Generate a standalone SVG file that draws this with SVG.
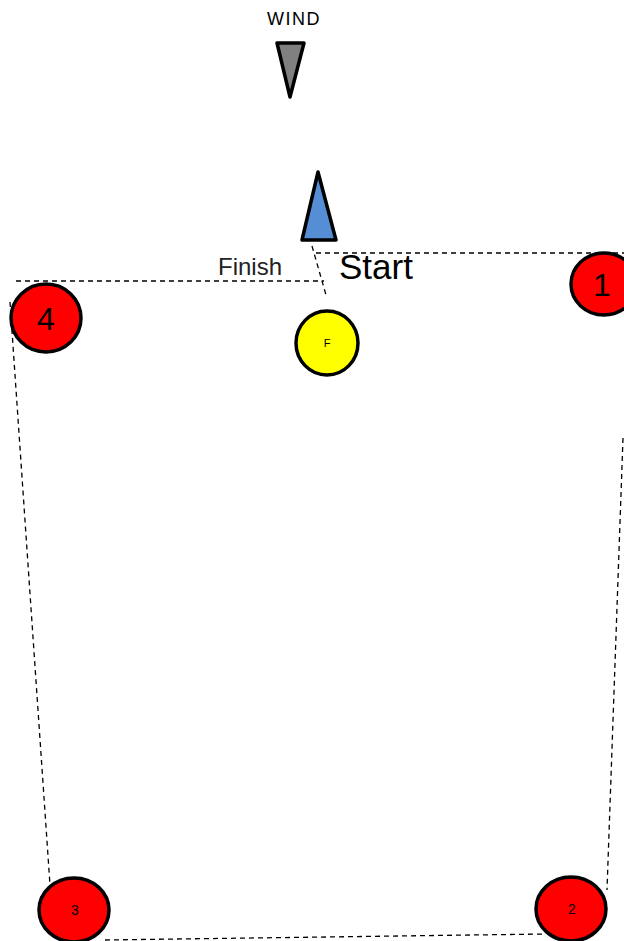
<svg xmlns="http://www.w3.org/2000/svg" width="624" height="941" viewBox="0 0 624 941">
<style>
.route{fill:none;stroke:#000;stroke-width:1.3;stroke-dasharray:5 4}
.mark{fill:#ff0000;stroke:#000;stroke-width:3.5}
.finishmark{fill:#ffff00;stroke:#000;stroke-width:3.5}
.lbl{font-family:"Liberation Sans",Arial,sans-serif;fill:#000;text-anchor:middle}
</style>
<rect width="624" height="941" fill="#fff"/>
<g id="connectors">
<polyline class="route" points="316,253 624,253"/>
<polyline class="route" points="312,246 326,295"/>
<polyline class="route" points="16,281 324,281"/>
<polyline class="route" points="10,302 50,885"/>
<polyline class="route" points="623,438 607,890"/>
<polyline class="route" points="105,940 545,934"/>
</g>
<g id="wind">
<text class="lbl" x="294" y="25" font-size="18" letter-spacing="1.5">WIND</text>
<polygon points="277,43 304,43 290,97" fill="#808080" stroke="#000" stroke-width="3.5" stroke-linejoin="round"/>
</g>
<g id="boat">
<polygon points="318,172 302,240 336,240" fill="#558ed5" stroke="#000" stroke-width="3.5" stroke-linejoin="round"/>
</g>
<g id="start-label">
<text x="339" y="279" font-family="Liberation Sans,Arial,sans-serif" font-size="35" fill="#000">Start</text>
</g>
<g id="finish-label">
<text x="218" y="275" font-family="Liberation Sans,Arial,sans-serif" font-size="24" fill="#222">Finish</text>
</g>
<g id="mark-4">
<ellipse class="mark" cx="46" cy="318" rx="35" ry="34"/>
<text class="lbl" x="46" y="330" font-size="32">4</text>
</g>
<g id="mark-1">
<ellipse class="mark" cx="604" cy="284" rx="33" ry="31"/>
<text class="lbl" x="602" y="296" font-size="32">1</text>
</g>
<g id="mark-F">
<ellipse class="finishmark" cx="327" cy="343" rx="31" ry="32"/>
<text class="lbl" x="327" y="347" font-size="11">F</text>
</g>
<g id="mark-3">
<ellipse class="mark" cx="74" cy="910" rx="35" ry="32"/>
<text class="lbl" x="75" y="915" font-size="14">3</text>
</g>
<g id="mark-2">
<ellipse class="mark" cx="571" cy="909" rx="35" ry="32"/>
<text class="lbl" x="572" y="914" font-size="14">2</text>
</g>
</svg>
